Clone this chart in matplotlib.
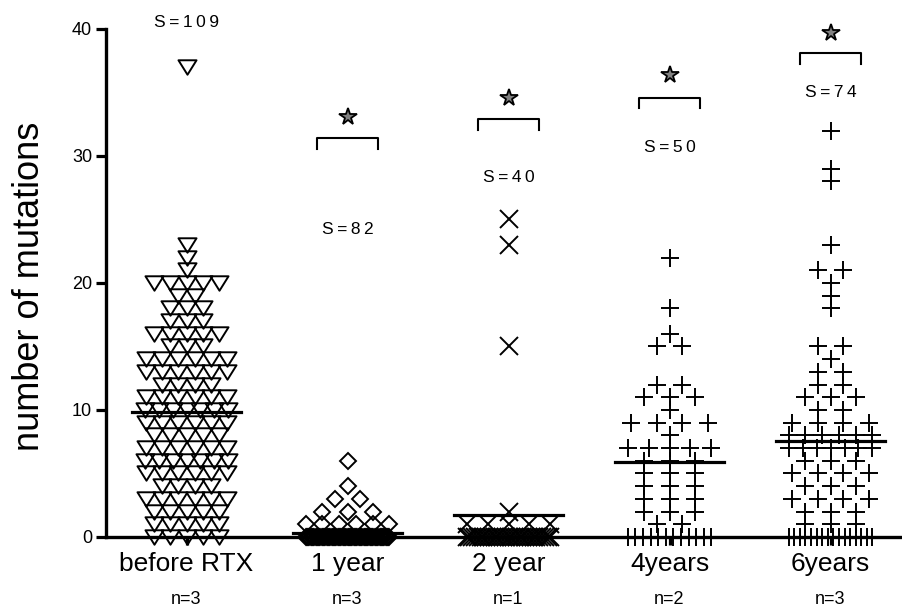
import numpy as np
import matplotlib.pyplot as plt
from matplotlib.path import Path

plt.rcParams['font.family'] = ['Liberation Sans', 'DejaVu Sans']

groups = ['before RTX', '1 year', '2 year', '4years', '6years']
n_patients = [3, 3, 1, 2, 3]

# mutations per sequence: distinct values and how many sequences had each
before_vals = [0, 1, 2, 3, 4, 5, 6, 7, 8, 9, 10, 11, 12, 13, 14, 15, 16, 17, 18, 19, 20, 21, 22, 23, 37]
before_counts = [5, 5, 5, 6, 4, 6, 7, 6, 5, 6, 7, 6, 4, 6, 6, 3, 5, 3, 3, 2, 5, 1, 1, 1, 1]

year1_vals = [0, 1, 2, 3, 4, 6]
year1_counts = [69, 6, 3, 2, 1, 1]

year2_vals = [0, 1, 2, 15, 23, 25]
year2_counts = [31, 5, 1, 1, 1, 1]

year4_vals = [0, 1, 2, 3, 4, 5, 6, 7, 8, 9, 10, 11, 12, 15, 16, 18, 22]
year4_counts = [12, 2, 3, 3, 3, 3, 3, 5, 1, 4, 1, 3, 2, 2, 1, 1, 1]

year6_vals = [0, 1, 2, 3, 4, 5, 6, 7, 8, 9, 10, 11, 12, 13, 14, 15, 18, 19, 20, 21, 23, 28, 29, 32]
year6_counts = [16, 3, 3, 4, 3, 4, 3, 7, 6, 4, 2, 3, 2, 2, 1, 2, 1, 1, 1, 2, 1, 1, 1, 1]

all_vals = [before_vals, year1_vals, year2_vals, year4_vals, year6_vals]
all_counts = [before_counts, year1_counts, year2_counts, year4_counts, year6_counts]

# wide, flat downward triangle (closed outline)
tri = Path([(-1, 0.8), (1, 0.8), (0, -0.8), (-1, 0.8)], closed=True)
styles = [
    dict(marker=tri, ms=13, mfc='none', mec='k', mew=1.4),
    dict(marker='D', ms=8.5, mfc='none', mec='k', mew=1.4),
    dict(marker='x', ms=12.5, mec='k', mew=1.4),
    dict(marker='+', ms=13, mec='k', mew=1.4),
    dict(marker='+', ms=13, mec='k', mew=1.4),
]
step_x = [0.1, 0.16, 0.16, 0.16, 0.16]
s_label_y = [40.5, 24.2, 28.3, 30.7, 35.0]


def spread(n, dx, half=0.26):
    # column scatter: same values side by side, squeezed into the column width
    if n == 1:
        return np.zeros(1)
    step = min(dx, 2 * half / (n - 1))
    return (np.arange(n) - (n - 1) / 2) * step


fig = plt.figure(figsize=(9.03, 6.13), dpi=100)
ax = fig.add_axes([0.1174, 0.124, 0.8826, 0.8287])

for i, (vals, counts) in enumerate(zip(all_vals, all_counts)):
    xs, ys = [], []
    for v, c in zip(vals, counts):
        xs.extend(i + spread(c, step_x[i]))
        ys.extend([v] * c)
    ax.plot(xs, ys, ls='none', clip_on=False, zorder=3, **styles[i])
    data = np.repeat(vals, counts)
    m = data.mean()
    ax.plot([i - 0.34, i + 0.34], [m, m], color='k', lw=2.3, zorder=4, clip_on=False)
    s_txt = '\u2009'.join('S=%d' % len(data))
    ax.text(i, s_label_y[i], s_txt, ha='center', va='center', fontsize=12.5)
    ax.text(i, -0.124, 'n=%d' % n_patients[i], transform=ax.get_xaxis_transform(),
            ha='center', va='center', fontsize=13)

# significance brackets vs. before RTX
bracket_y = [31.4, 32.9, 34.6, 38.1]
star_y = [33.1, 34.6, 36.4, 39.7]
for j in range(4):
    x0 = j + 1
    b = bracket_y[j]
    ax.plot([x0 - 0.19, x0 - 0.19, x0 + 0.19, x0 + 0.19], [b - 0.85, b, b, b - 0.85],
            color='k', lw=1.5, clip_on=False)
    ax.plot(x0, star_y[j], marker='*', ms=13, mfc='#808080', mec='k', mew=1.3,
            clip_on=False)

ax.set_xlim(-0.5, 4.45)
ax.set_ylim(0, 40)
ax.set_yticks([0, 10, 20, 30, 40])
ax.set_xticks(range(5))
ax.set_xticklabels(groups, fontsize=19)
ax.tick_params(axis='y', length=7, width=2.3, labelsize=13, pad=3)
ax.tick_params(axis='x', length=6, width=2.3, pad=5)

for s in ['top', 'right']:
    ax.spines[s].set_visible(False)
for s in ['left', 'bottom']:
    ax.spines[s].set_linewidth(2.4)

fig.text(30 / 903, 1 - 286 / 613, 'number of mutations', rotation=90,
         ha='center', va='center', fontsize=26)

fig.savefig('out.png', dpi=100)
